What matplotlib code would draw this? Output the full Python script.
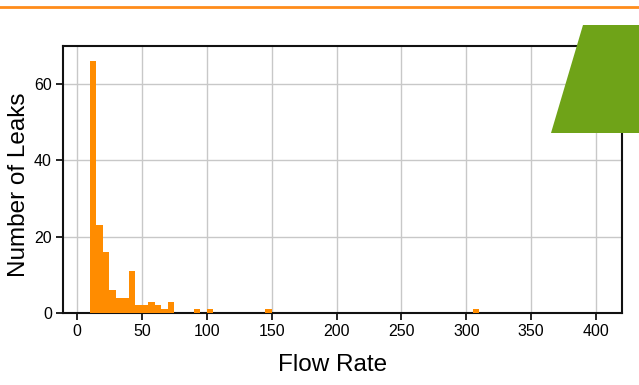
import matplotlib
matplotlib.use("Agg")
import matplotlib.pyplot as plt
from matplotlib.patches import Polygon
from matplotlib.lines import Line2D

plt.rcParams['font.family'] = ['Liberation Sans', 'DejaVu Sans']

# histogram bins (left edges, width 5) and counts
bin_left = [10, 15, 20, 25, 30, 35, 40, 45, 50, 55, 60, 65, 70, 90, 100, 145, 305]
leak_counts = [66, 23, 16, 6, 4, 4, 11, 2, 2, 3, 2, 1, 3, 1, 1, 1, 1]
bin_width = 5
x_ticks = [0, 50, 100, 150, 200, 250, 300, 350, 400]
y_ticks = [0, 20, 40, 60]

fig = plt.figure(figsize=(6.39, 3.85), dpi=100)
ax = fig.add_axes([63 / 639, 1 - 313 / 385, (622 - 63) / 639, (313 - 46) / 385])

ax.bar(bin_left, leak_counts, width=bin_width, align='edge', color='#ff8c00', zorder=3)

ax.set_xlim(-10.8, 420)
ax.set_ylim(0, 70)
ax.set_xticks(x_ticks)
ax.set_yticks(y_ticks)
ax.grid(True, color='#c8c8c8', linewidth=1, zorder=0)
ax.tick_params(direction='out', length=5, width=1.2, labelsize=11.5, colors='black', pad=3)
for s in ax.spines.values():
    s.set_linewidth(1.5)
    s.set_color('#111111')

ax.set_xlabel('Flow Rate', fontsize=17.5, labelpad=10.5)
ax.set_ylabel('Number of Leaks', fontsize=17.5, labelpad=3)
# labels sit a little off-centre in the original
ax.xaxis.label.set_x(0.483)
ax.yaxis.label.set_y(0.479)

# decorations: orange rule at the top and green trapezoid in the corner
fig.add_artist(Line2D([0, 1], [1 - 7 / 385, 1 - 7 / 385], transform=fig.transFigure,
                      color='#ff8c1a', linewidth=2))
trap = Polygon([(583 / 639, 1 - 25 / 385), (1, 1 - 25 / 385), (1, 1 - 133 / 385), (551 / 639, 1 - 133 / 385)],
               closed=True, transform=fig.transFigure, facecolor='#6fa318', edgecolor='none', zorder=10)
fig.add_artist(trap)

fig.savefig('out.png', dpi=100)
